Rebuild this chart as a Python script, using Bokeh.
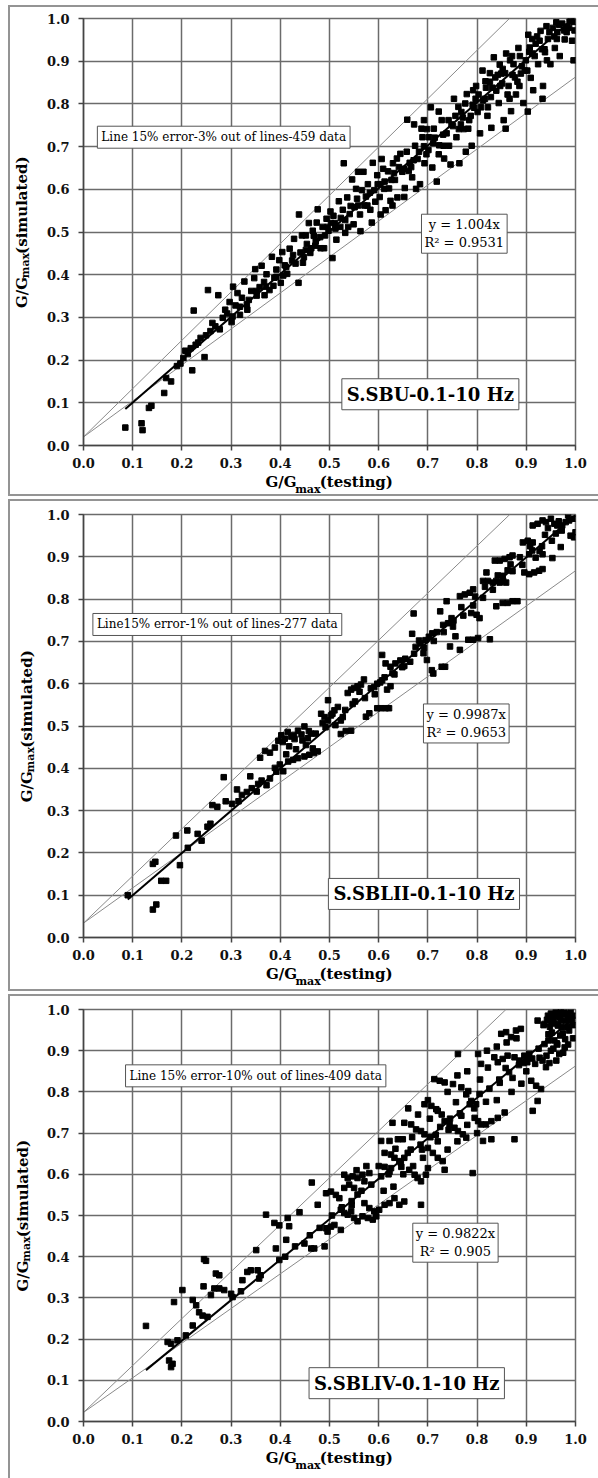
from bokeh.plotting import figure
from bokeh.layouts import column
from bokeh.models import Label, Range1d, FixedTicker, LinearAxis
from bokeh.embed import file_html
from bokeh.resources import INLINE

# ---------------------------------------------------------------- data
TICKS = [0.0, 0.1, 0.2, 0.3, 0.4, 0.5, 0.6, 0.7, 0.8, 0.9, 1.0]
TICK_LABELS = ["0.0", "0.1", "0.2", "0.3", "0.4", "0.5", "0.6", "0.7", "0.8", "0.9", "1.0"]

# S.SBU, 0.1-10 Hz : G/Gmax testing vs simulated
sbu_x = [
    0.085, 0.118, 0.120, 0.133, 0.138, 0.164, 0.168, 0.178, 0.190, 0.197,
    0.203, 0.207, 0.212, 0.218, 0.221, 0.224, 0.228, 0.233, 0.238, 0.246,
    0.249, 0.253, 0.258, 0.262, 0.268, 0.274, 0.277, 0.283, 0.288, 0.292,
    0.297, 0.301, 0.304, 0.309, 0.313, 0.318, 0.322, 0.327, 0.333, 0.336,
    0.341, 0.347, 0.349, 0.352, 0.358, 0.362, 0.367, 0.372, 0.378, 0.383,
    0.388, 0.392, 0.398, 0.401, 0.404, 0.409, 0.414, 0.419, 0.424, 0.428,
    0.437, 0.441, 0.444, 0.448, 0.454, 0.458, 0.461, 0.466, 0.471, 0.476,
    0.481, 0.486, 0.489, 0.494, 0.498, 0.502, 0.506, 0.511, 0.514, 0.519,
    0.523, 0.529, 0.532, 0.536, 0.541, 0.546, 0.549, 0.554, 0.558, 0.563,
    0.569, 0.574, 0.578, 0.583, 0.588, 0.593, 0.597, 0.602, 0.606, 0.611,
    0.614, 0.619, 0.624, 0.629, 0.633, 0.638, 0.644, 0.648, 0.653, 0.658,
    0.663, 0.668, 0.674, 0.679, 0.684, 0.689, 0.693, 0.698, 0.701, 0.706,
    0.709, 0.714, 0.718, 0.723, 0.728, 0.733, 0.738, 0.743, 0.748, 0.753,
    0.758, 0.764, 0.768, 0.773, 0.779, 0.784, 0.789, 0.794, 0.798, 0.801,
    0.806, 0.811, 0.816, 0.821, 0.826, 0.829, 0.834, 0.839, 0.844, 0.849,
    0.854, 0.859, 0.864, 0.869, 0.874, 0.879, 0.884, 0.889, 0.894, 0.899,
    0.904, 0.909, 0.914, 0.919, 0.924, 0.929, 0.934, 0.938, 0.944, 0.949,
    0.954, 0.958, 0.963, 0.968, 0.973, 0.978, 0.983, 0.988, 0.993, 0.996,
    0.998, 0.991, 0.961, 0.941, 0.912, 0.871, 0.852, 0.817, 0.792, 0.762,
    0.352, 0.371, 0.392, 0.412, 0.431, 0.452, 0.472, 0.491, 0.512, 0.532,
    0.551, 0.571, 0.591, 0.612, 0.631, 0.652, 0.671, 0.692, 0.711, 0.731,
    0.751, 0.771, 0.791, 0.812, 0.831, 0.851, 0.872, 0.891, 0.912, 0.932,
    0.303, 0.318, 0.332, 0.368, 0.386, 0.406, 0.426, 0.446, 0.468, 0.482,
    0.503, 0.522, 0.543, 0.562, 0.582, 0.603, 0.621, 0.641, 0.661, 0.682,
    0.702, 0.722, 0.742, 0.763, 0.782, 0.803, 0.822, 0.842, 0.862, 0.882,
    0.902, 0.922, 0.942, 0.962, 0.982, 0.672, 0.692, 0.722, 0.586, 0.604,
    0.628, 0.652, 0.676, 0.746, 0.777, 0.858, 0.903, 0.933, 0.558, 0.438,
    0.756, 0.767, 0.776, 0.787, 0.797, 0.808, 0.818, 0.828, 0.837, 0.847,
    0.857, 0.867, 0.877, 0.887, 0.897, 0.907, 0.917, 0.927, 0.937, 0.947,
    0.957, 0.967, 0.977, 0.987, 0.997, 0.826, 0.846, 0.866, 0.886, 0.906,
    0.452, 0.463, 0.474, 0.496, 0.508, 0.527, 0.538, 0.556, 0.566, 0.577,
    0.598, 0.609, 0.626, 0.637, 0.657, 0.666, 0.687, 0.697, 0.712, 0.732,
]
sbu_y = [
    0.042, 0.052, 0.036, 0.088, 0.093, 0.123, 0.158, 0.150, 0.186, 0.192,
    0.205, 0.222, 0.214, 0.228, 0.176, 0.316, 0.236, 0.241, 0.252, 0.207,
    0.258, 0.364, 0.268, 0.287, 0.279, 0.352, 0.272, 0.299, 0.318, 0.309,
    0.336, 0.289, 0.372, 0.328, 0.357, 0.306, 0.346, 0.384, 0.318, 0.341,
    0.362, 0.392, 0.413, 0.351, 0.371, 0.421, 0.383, 0.401, 0.364, 0.442,
    0.393, 0.412, 0.434, 0.381, 0.453, 0.422, 0.402, 0.461, 0.433, 0.484,
    0.381, 0.452, 0.492, 0.441, 0.472, 0.521, 0.451, 0.503, 0.468, 0.553,
    0.488, 0.512, 0.462, 0.531, 0.503, 0.548, 0.439, 0.521, 0.482, 0.572,
    0.533, 0.661, 0.498, 0.581, 0.542, 0.623, 0.518, 0.601, 0.562, 0.502,
    0.641, 0.583, 0.612, 0.552, 0.662, 0.571, 0.633, 0.582, 0.671, 0.601,
    0.551, 0.642, 0.573, 0.661, 0.622, 0.581, 0.683, 0.641, 0.603, 0.763,
    0.662, 0.628, 0.702, 0.671, 0.612, 0.722, 0.661, 0.741, 0.692, 0.792,
    0.651, 0.721, 0.618, 0.703, 0.762, 0.672, 0.731, 0.702, 0.752, 0.812,
    0.722, 0.661, 0.781, 0.741, 0.823, 0.762, 0.702, 0.791, 0.842, 0.781,
    0.731, 0.878, 0.812, 0.772, 0.852, 0.744, 0.909, 0.831, 0.802, 0.871,
    0.762, 0.918, 0.842, 0.783, 0.893, 0.822, 0.931, 0.871, 0.802, 0.902,
    0.962, 0.861, 0.832, 0.941, 0.893, 0.971, 0.842, 0.921, 0.952, 0.893,
    0.978, 0.931, 0.968, 0.912, 0.988, 0.951, 0.981, 0.993, 0.948, 0.902,
    0.972, 0.997, 0.991, 0.982, 0.952, 0.912, 0.882, 0.853, 0.832, 0.793,
    0.362, 0.372, 0.395, 0.418, 0.426, 0.458, 0.478, 0.492, 0.508, 0.528,
    0.558, 0.562, 0.598, 0.618, 0.638, 0.648, 0.668, 0.701, 0.708, 0.728,
    0.748, 0.768, 0.798, 0.808, 0.838, 0.848, 0.868, 0.888, 0.918, 0.928,
    0.302, 0.325, 0.331, 0.352, 0.374, 0.398, 0.446, 0.428, 0.491, 0.462,
    0.521, 0.512, 0.561, 0.541, 0.592, 0.612, 0.602, 0.652, 0.643, 0.688,
    0.722, 0.682, 0.762, 0.741, 0.742, 0.822, 0.792, 0.868, 0.822, 0.852,
    0.878, 0.958, 0.902, 0.952, 0.968, 0.752, 0.762, 0.782, 0.522, 0.541,
    0.562, 0.582, 0.601, 0.658, 0.688, 0.742, 0.782, 0.812, 0.641, 0.541,
    0.772, 0.752, 0.801, 0.772, 0.812, 0.792, 0.838, 0.816, 0.862, 0.842,
    0.872, 0.902, 0.862, 0.912, 0.878, 0.932, 0.912, 0.948, 0.928, 0.968,
    0.958, 0.985, 0.972, 0.978, 0.992, 0.872, 0.892, 0.812, 0.842, 0.922,
    0.492, 0.462, 0.522, 0.512, 0.538, 0.552, 0.512, 0.578, 0.598, 0.562,
    0.612, 0.648, 0.622, 0.672, 0.688, 0.652, 0.742, 0.682, 0.742, 0.702,
]

# S.SBLII, 0.1-10 Hz
sblii_x = [
    0.090, 0.141, 0.146, 0.141, 0.148, 0.158, 0.168, 0.188, 0.196, 0.211,
    0.240, 0.258, 0.262, 0.272, 0.285, 0.289, 0.312, 0.322, 0.332, 0.339,
    0.342, 0.355, 0.362, 0.372, 0.379, 0.359, 0.369, 0.379, 0.389, 0.396,
    0.402, 0.409, 0.415, 0.422, 0.429, 0.436, 0.443, 0.449, 0.456, 0.462,
    0.389, 0.399, 0.406, 0.416, 0.426, 0.436, 0.449, 0.459, 0.468, 0.476,
    0.483, 0.490, 0.497, 0.503, 0.510, 0.517, 0.523, 0.497, 0.523, 0.533,
    0.544, 0.537, 0.544, 0.550, 0.557, 0.564, 0.570, 0.574, 0.581, 0.597,
    0.604, 0.614, 0.621, 0.591, 0.597, 0.607, 0.617, 0.624, 0.607, 0.614,
    0.624, 0.634, 0.644, 0.654, 0.668, 0.671, 0.675, 0.685, 0.695, 0.702,
    0.709, 0.691, 0.698, 0.708, 0.711, 0.725, 0.728, 0.735, 0.731, 0.741,
    0.751, 0.738, 0.765, 0.765, 0.775, 0.785, 0.792, 0.782, 0.792, 0.802,
    0.826, 0.788, 0.799, 0.819, 0.812, 0.822, 0.832, 0.839, 0.846, 0.853,
    0.859, 0.839, 0.852, 0.862, 0.872, 0.882, 0.836, 0.846, 0.856, 0.866,
    0.872, 0.893, 0.903, 0.913, 0.896, 0.906, 0.916, 0.926, 0.933, 0.927,
    0.933, 0.906, 0.919, 0.933, 0.940, 0.950, 0.957, 0.963, 0.973, 0.980,
    0.987, 0.997, 1.000, 0.913, 0.923, 0.953, 0.970, 0.990, 0.997, 0.960,
    0.212, 0.232, 0.252, 0.302, 0.315, 0.352, 0.392, 0.412, 0.432, 0.452,
    0.472, 0.492, 0.512, 0.532, 0.552, 0.572, 0.592, 0.612, 0.632, 0.652,
    0.672, 0.692, 0.712, 0.732, 0.752, 0.772, 0.792, 0.812, 0.832, 0.852,
    0.872, 0.892, 0.912, 0.932, 0.952, 0.972, 0.745, 0.756, 0.805, 0.862,
    0.405, 0.418, 0.428, 0.445, 0.458, 0.466, 0.486, 0.506, 0.527, 0.547,
    0.561, 0.584, 0.603, 0.628, 0.648, 0.664, 0.682, 0.718, 0.748, 0.768,
    0.796, 0.816, 0.842, 0.868, 0.887, 0.908, 0.938, 0.944, 0.966, 0.985,
]
sblii_y = [
    0.100, 0.174, 0.179, 0.066, 0.078, 0.134, 0.134, 0.241, 0.171, 0.253,
    0.229, 0.269, 0.313, 0.309, 0.379, 0.322, 0.350, 0.337, 0.344, 0.381,
    0.353, 0.363, 0.371, 0.360, 0.376, 0.425, 0.441, 0.437, 0.449, 0.465,
    0.478, 0.470, 0.486, 0.475, 0.469, 0.489, 0.480, 0.499, 0.471, 0.482,
    0.401, 0.409, 0.393, 0.416, 0.420, 0.424, 0.428, 0.432, 0.436, 0.440,
    0.529, 0.521, 0.513, 0.525, 0.537, 0.545, 0.513, 0.561, 0.481, 0.488,
    0.489, 0.578, 0.586, 0.590, 0.594, 0.598, 0.610, 0.522, 0.530, 0.542,
    0.542, 0.542, 0.542, 0.592, 0.600, 0.608, 0.586, 0.594, 0.668, 0.648,
    0.640, 0.648, 0.655, 0.659, 0.718, 0.766, 0.687, 0.695, 0.703, 0.711,
    0.719, 0.672, 0.656, 0.632, 0.624, 0.771, 0.640, 0.640, 0.739, 0.743,
    0.735, 0.795, 0.680, 0.807, 0.811, 0.815, 0.823, 0.704, 0.704, 0.708,
    0.705, 0.767, 0.763, 0.863, 0.843, 0.843, 0.839, 0.843, 0.839, 0.843,
    0.839, 0.783, 0.791, 0.791, 0.795, 0.795, 0.891, 0.891, 0.895, 0.899,
    0.903, 0.934, 0.938, 0.934, 0.863, 0.859, 0.863, 0.867, 0.871, 0.914,
    0.906, 0.906, 0.898, 0.986, 0.982, 0.990, 0.978, 0.974, 0.974, 0.982,
    0.986, 0.990, 0.958, 0.974, 0.978, 0.897, 0.923, 0.950, 0.946, 0.955,
    0.212, 0.245, 0.262, 0.316, 0.322, 0.345, 0.392, 0.433, 0.445, 0.455,
    0.482, 0.497, 0.502, 0.538, 0.558, 0.566, 0.575, 0.615, 0.622, 0.642,
    0.671, 0.685, 0.701, 0.722, 0.749, 0.761, 0.785, 0.803, 0.822, 0.855,
    0.866, 0.881, 0.915, 0.925, 0.938, 0.962, 0.688, 0.712, 0.755, 0.868,
    0.462, 0.452, 0.479, 0.466, 0.488, 0.447, 0.507, 0.529, 0.521, 0.552,
    0.581, 0.589, 0.603, 0.625, 0.639, 0.652, 0.702, 0.722, 0.755, 0.781,
    0.806, 0.829, 0.856, 0.882, 0.899, 0.925, 0.952, 0.968, 0.984, 0.998,
]

# S.SBLIV, 0.1-10 Hz
sbliv_x = [
    0.127, 0.171, 0.178, 0.191, 0.174, 0.181, 0.178, 0.184, 0.201, 0.208,
    0.222, 0.222, 0.229, 0.235, 0.242, 0.252, 0.245, 0.249, 0.244, 0.259,
    0.266, 0.276, 0.286, 0.269, 0.276, 0.303, 0.323, 0.333, 0.340, 0.357,
    0.354, 0.351, 0.371, 0.388, 0.398, 0.415, 0.418, 0.391, 0.398, 0.412,
    0.439, 0.449, 0.463, 0.469, 0.464, 0.476, 0.490, 0.493, 0.496, 0.503,
    0.510, 0.523, 0.493, 0.503, 0.513, 0.520, 0.530, 0.540, 0.550, 0.523,
    0.530, 0.537, 0.544, 0.550, 0.557, 0.567, 0.578, 0.588, 0.595, 0.530,
    0.537, 0.547, 0.557, 0.567, 0.571, 0.581, 0.557, 0.571, 0.581, 0.591,
    0.601, 0.612, 0.622, 0.632, 0.642, 0.652, 0.605, 0.622, 0.639, 0.649,
    0.612, 0.625, 0.632, 0.642, 0.652, 0.659, 0.628, 0.652, 0.666, 0.676,
    0.686, 0.693, 0.662, 0.673, 0.679, 0.686, 0.696, 0.700, 0.686, 0.693,
    0.707, 0.717, 0.720, 0.700, 0.710, 0.720, 0.730, 0.734, 0.713, 0.724,
    0.734, 0.751, 0.734, 0.744, 0.754, 0.761, 0.771, 0.778, 0.761, 0.768,
    0.778, 0.788, 0.798, 0.791, 0.795, 0.802, 0.808, 0.818, 0.829, 0.842,
    0.856, 0.812, 0.829, 0.802, 0.808, 0.822, 0.835, 0.842, 0.852, 0.862,
    0.876, 0.886, 0.896, 0.906, 0.849, 0.859, 0.869, 0.879, 0.889, 0.876,
    0.913, 0.923, 0.910, 0.920, 0.930, 0.923, 0.937, 0.950, 0.964, 0.971,
    0.984, 0.987, 0.993, 0.937, 0.950, 0.961, 0.967, 0.978, 0.950, 0.960,
    0.970, 0.980, 0.965, 0.955, 0.944, 0.990, 0.998, 0.995, 0.985, 0.945,
    0.300, 0.320, 0.360, 0.410, 0.430, 0.460, 0.480, 0.505, 0.525, 0.545,
    0.565, 0.585, 0.605, 0.625, 0.645, 0.665, 0.685, 0.705, 0.725, 0.745,
    0.765, 0.785, 0.805, 0.825, 0.845, 0.865, 0.885, 0.905, 0.925, 0.945,
    0.660, 0.680, 0.700, 0.740, 0.760, 0.780, 0.820, 0.840, 0.860, 0.880,
    0.720, 0.740, 0.760, 0.780, 0.800, 0.840, 0.870, 0.890, 0.900, 0.940,
    0.610, 0.630, 0.650, 0.670, 0.690, 0.600, 0.620, 0.575, 0.555, 0.545,
    0.935, 0.942, 0.948, 0.953, 0.958, 0.962, 0.968, 0.972, 0.976, 0.981,
    0.986, 0.991, 0.996, 0.952, 0.957, 0.963, 0.969, 0.974, 0.979, 0.984,
    0.902, 0.912, 0.918, 0.927, 0.933, 0.941, 0.947, 0.955, 0.962, 0.975,
    0.612, 0.622, 0.634, 0.646, 0.668, 0.688, 0.704, 0.716, 0.728, 0.742,
    0.757, 0.768, 0.782, 0.794, 0.806, 0.818, 0.846, 0.858, 0.872, 0.894,
]
sbliv_y = [
    0.232, 0.193, 0.189, 0.197, 0.148, 0.140, 0.132, 0.290, 0.319, 0.209,
    0.233, 0.295, 0.282, 0.265, 0.257, 0.254, 0.394, 0.390, 0.328, 0.307,
    0.323, 0.323, 0.319, 0.359, 0.355, 0.302, 0.343, 0.363, 0.367, 0.347,
    0.367, 0.416, 0.502, 0.482, 0.476, 0.494, 0.474, 0.420, 0.392, 0.441,
    0.508, 0.432, 0.420, 0.420, 0.580, 0.526, 0.425, 0.469, 0.461, 0.473,
    0.477, 0.465, 0.554, 0.558, 0.550, 0.542, 0.567, 0.575, 0.567, 0.514,
    0.506, 0.502, 0.510, 0.494, 0.486, 0.498, 0.494, 0.490, 0.498, 0.599,
    0.591, 0.595, 0.591, 0.599, 0.583, 0.603, 0.551, 0.530, 0.518, 0.510,
    0.514, 0.526, 0.530, 0.542, 0.526, 0.534, 0.681, 0.681, 0.685, 0.685,
    0.652, 0.648, 0.640, 0.632, 0.640, 0.652, 0.725, 0.725, 0.721, 0.709,
    0.705, 0.697, 0.611, 0.599, 0.591, 0.583, 0.599, 0.615, 0.526, 0.770,
    0.766, 0.758, 0.754, 0.664, 0.652, 0.640, 0.632, 0.611, 0.831, 0.827,
    0.823, 0.819, 0.729, 0.721, 0.713, 0.705, 0.697, 0.689, 0.892, 0.811,
    0.794, 0.778, 0.770, 0.603, 0.737, 0.729, 0.721, 0.721, 0.729, 0.737,
    0.750, 0.681, 0.685, 0.892, 0.868, 0.859, 0.884, 0.872, 0.880, 0.888,
    0.884, 0.876, 0.888, 0.892, 0.941, 0.945, 0.933, 0.949, 0.953, 0.685,
    0.754, 0.778, 0.827, 0.815, 0.807, 0.973, 0.965, 0.969, 0.961, 0.973,
    0.957, 0.949, 0.969, 0.916, 0.900, 0.876, 0.892, 0.908, 0.990, 0.998,
    0.994, 0.988, 0.983, 0.976, 0.985, 0.996, 0.985, 0.930, 0.915, 0.940,
    0.310, 0.316, 0.355, 0.400, 0.425, 0.452, 0.470, 0.500, 0.520, 0.535,
    0.560, 0.575, 0.595, 0.615, 0.628, 0.660, 0.672, 0.690, 0.715, 0.735,
    0.748, 0.770, 0.795, 0.808, 0.830, 0.848, 0.865, 0.885, 0.905, 0.925,
    0.760, 0.745, 0.780, 0.800, 0.840, 0.850, 0.900, 0.910, 0.920, 0.930,
    0.680, 0.660, 0.680, 0.720, 0.700, 0.780, 0.800, 0.820, 0.850, 0.860,
    0.560, 0.570, 0.600, 0.620, 0.640, 0.620, 0.600, 0.620, 0.610, 0.525,
    0.962, 0.975, 0.958, 0.986, 0.966, 0.992, 0.981, 0.957, 0.996, 0.972,
    0.990, 0.978, 0.962, 0.944, 0.925, 0.915, 0.937, 0.942, 0.928, 0.975,
    0.872, 0.881, 0.868, 0.883, 0.876, 0.888, 0.870, 0.905, 0.918, 0.895,
    0.618, 0.606, 0.662, 0.618, 0.690, 0.660, 0.735, 0.696, 0.745, 0.708,
    0.775, 0.742, 0.802, 0.760, 0.830, 0.776, 0.822, 0.858, 0.834, 0.870,
]

# regression slopes, R^2 and first fitted abscissa
fit_slopes = [1.004, 0.9987, 0.9822]
fit_r2 = ["0.9531", "0.9653", "0.905"]
fit_start = [0.085, 0.090, 0.127]

# +/-15 % error band: common origin and the two slopes
band_origin = [0.020, 0.034, 0.022]
band_upper = [1.132, 1.115, 1.139]
band_lower = [0.843, 0.833, 0.841]

notes = [
    "Line 15% error-3% out of lines-459 data",
    "Line15% error-1% out of lines-277 data",
    "Line 15% error-10% out of lines-409 data",
]
captions = ["S.SBU-0.1-10 Hz", "S.SBLII-0.1-10 Hz", "S.SBLIV-0.1-10 Hz"]

# ---------------------------------------------------------------- styling
SERIF = "DejaVu Serif"
GRID = "#6b6b6b"
CANVAS_W = 588          # canvas width; an 8 px margin and a 2 px border sit to its left
BORDER = "2px solid #949494"
TITLE_PX, SUB_PX = 15, 11

# approximate advance widths (em) of the bold serif face, for composing sub-scripted titles
BOLD_EM = {"G": 0.821, "/": 0.365, "m": 1.042, "a": 0.675, "x": 0.665, "(": 0.473,
           ")": 0.473, "s": 0.595, "i": 0.38, "u": 0.76, "l": 0.38, "t": 0.478,
           "e": 0.678, "d": 0.76, "n": 0.76, "g": 0.716}


def text_w(s, size):
    return 0.95 * sum(BOLD_EM.get(c, 0.62) for c in s) * size


def title_axis(p, side, ticks, labels, size, standoff):
    ax = LinearAxis(ticker=FixedTicker(ticks=ticks),
                    major_label_overrides=dict(zip(ticks, labels)))
    ax.axis_line_color = None
    ax.major_tick_line_color = None
    ax.minor_tick_line_color = None
    ax.major_tick_in = 0
    ax.major_tick_out = 0
    ax.major_label_standoff = standoff
    ax.major_label_text_font = SERIF
    ax.major_label_text_font_style = "bold"
    ax.major_label_text_font_size = f"{size}px"
    ax.major_label_text_color = "black"
    if side == "left":
        ax.major_label_orientation = "vertical"
    p.add_layout(ax, side)


def composite_title(p, word, side, frame_len, standoff):
    """G/G_max(word) built from two extra axes: main text and the lowered subscript."""
    pieces = [("G/G", TITLE_PX), ("max", SUB_PX), ("(" + word + ")", TITLE_PX)]
    widths = [text_w(t, s) for t, s in pieces]
    acc = -sum(widths) / 2.0
    centers = []
    for w in widths:
        centers.append(round(0.5 + (acc + w / 2.0) / frame_len, 4))
        acc += w
    title_axis(p, side, [centers[0], centers[2]], [pieces[0][0], pieces[2][0]],
               TITLE_PX, standoff)
    sub_standoff = -11 if side == "below" else -22
    title_axis(p, side, [centers[1]], [pieces[1][0]], SUB_PX, sub_standoff)


def panel(i, xs, ys, height, top, bottom, left, margin_top, with_bottom_border,
          note_xy, eq_xy, cap_xy):
    p = figure(width=CANVAS_W, height=height, output_backend="svg",
               toolbar_location=None, x_range=Range1d(0, 1), y_range=Range1d(0, 1),
               min_border_left=left, min_border_right=25,
               min_border_top=top, min_border_bottom=bottom,
               background_fill_color="white", border_fill_color="white")
    css = {"box-sizing": "content-box", "margin-left": "8px",
           "margin-top": f"{margin_top}px", "border-left": BORDER, "border-top": BORDER}
    if with_bottom_border:
        css["border-bottom"] = BORDER
    p.styles = css
    p.outline_line_color = GRID
    p.outline_line_width = 1.5

    ticker = FixedTicker(ticks=TICKS)
    overrides = {t: lab for t, lab in zip(TICKS, TICK_LABELS)}
    for ax in (p.xaxis[0], p.yaxis[0]):
        ax.ticker = ticker
        ax.major_label_overrides = overrides
        ax.major_label_text_font = SERIF
        ax.major_label_text_font_style = "bold"
        ax.major_label_text_font_size = "13px"
        ax.major_label_text_color = "#111111"
        ax.axis_line_color = "#444444"
        ax.axis_line_width = 1.5
        ax.major_tick_line_color = "#444444"
        ax.major_tick_line_width = 1.5
        ax.major_tick_in = 0
        ax.major_tick_out = 5
        ax.minor_tick_line_color = None
    p.xaxis[0].major_label_standoff = 7
    p.yaxis[0].major_label_standoff = 9
    for g in (p.xgrid[0], p.ygrid[0]):
        g.ticker = ticker
        g.grid_line_color = GRID
        g.grid_line_width = 1.5

    frame_w = CANVAS_W - left - 25
    frame_h = height - top - bottom
    composite_title(p, "testing", "below", frame_w, 2)
    composite_title(p, "simulated", "left", frame_h, max(left + 10 - 24 - 37 - 9, 0))

    # +/-15 % lines
    o, hi, lo = band_origin[i], band_upper[i], band_lower[i]
    p.line([0, (1 - o) / hi], [o, 1], line_color="#8a8a8a", line_width=1)
    p.line([0, 1], [o, o + lo], line_color="#8a8a8a", line_width=1)

    p.scatter(xs, ys, marker="square", size=5.5, fill_color="black", line_color="black")

    # linear trend through the origin
    k = fit_slopes[i]
    p.line([fit_start[i], 1.0], [k * fit_start[i], k * 1.0],
           line_color="black", line_width=2)

    box = dict(text_font=SERIF, text_color="black", text_align="center",
               text_baseline="middle", background_fill_color="white",
               border_line_color="#555555", border_line_width=1)
    p.add_layout(Label(x=note_xy[0], y=note_xy[1], text=notes[i],
                       text_font_size="12px", padding=4, **box))
    eq = f"y = {k}x\nR\u00b2 = {fit_r2[i]}"
    p.add_layout(Label(x=eq_xy[0], y=eq_xy[1], text=eq, text_font_size="13px",
                       padding=3, **box))
    p.add_layout(Label(x=cap_xy[0], y=cap_xy[1], text=captions[i],
                       text_font_size="18px", text_font_style="bold", padding=5, **box))
    return p


# canvas geometry is given relative to each canvas (page offsets minus margin and border)
p1 = panel(0, sbu_x, sbu_y, 487, 11, 51, 72, 5, True,
           (0.285, 0.722), (0.774, 0.496), (0.705, 0.120))
p2 = panel(1, sblii_x, sblii_y, 488, 13, 56, 67, 3, True,
           (0.272, 0.740), (0.778, 0.506), (0.692, 0.103))
p3 = panel(2, sbliv_x, sbliv_y, 482, 13, 59, 71, 3, False,
           (0.350, 0.839), (0.756, 0.434), (0.657, 0.093))

page = column(p1, p2, p3, spacing=0)
open("out.html", "w").write(file_html(page, INLINE))
